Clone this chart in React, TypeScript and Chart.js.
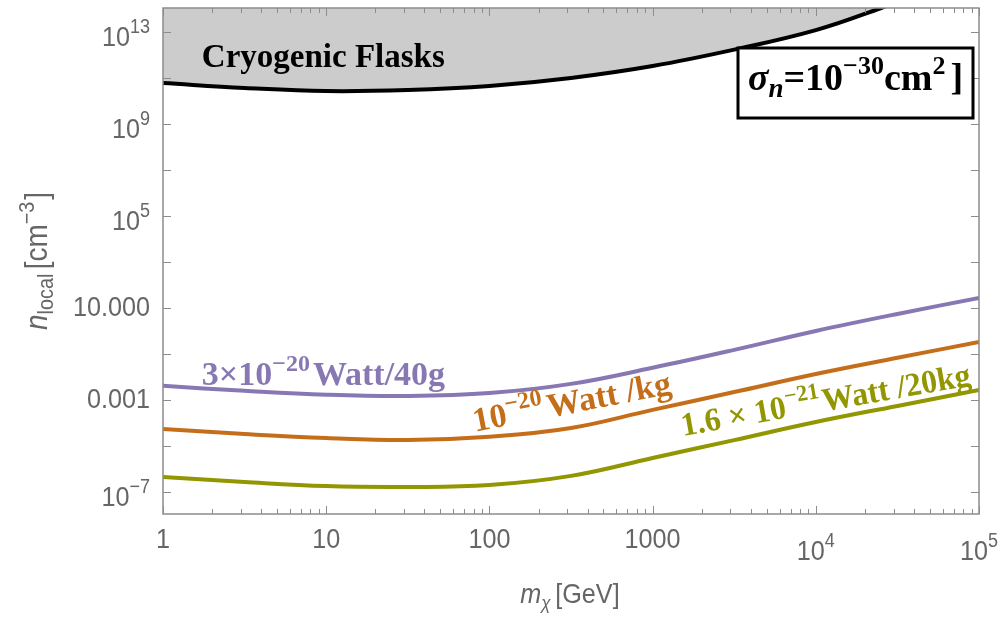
import React, { useEffect, useRef } from "react";
import { Chart, registerables } from "chart.js";

Chart.register(...registerables);

// ---- data ----
const massGeV = [1, 3.162, 10, 31.62, 100, 316.2, 1000, 3162, 10000, 31623, 100000];
const purple40g = [4.1e-3, 2.5e-3, 1.7e-3, 1.5e-3, 2.0e-3, 5.0e-3, 2.5e-2, 0.15, 1.0, 5.5, 27];
const orangeKg = [5.5e-5, 3.3e-5, 2.2e-5, 1.8e-5, 2.5e-5, 6.0e-5, 3.7e-4, 2.2e-3, 1.35e-2, 6.8e-2, 0.33];
const olive20kg = [4.5e-7, 2.7e-7, 1.8e-7, 1.65e-7, 2.0e-7, 5.0e-7, 3.0e-6, 1.8e-5, 1.1e-4, 5.5e-4, 2.7e-3];
const flaskMass = [1, 3.162, 10, 31.62, 100, 316.2, 1000, 3162, 10000, 25119, 31623];
const flaskLimit = [6.0e10, 3.7e10, 2.7e10, 3.0e10, 4.5e10, 1.0e11, 3.3e11, 1.7e12, 1.2e13, 1.1e14, 2.2e14];

const xTickValues = [1, 10, 100, 1000, 1e4, 1e5];
const xTickLabels = ["1", "10", "100", "1000", "10^4", "10^5"];
const yTickValues = [1e-7, 1e-3, 10, 1e5, 1e9, 1e13];
const yTickLabels = ["10^−7", "0.001", "10.000", "10^5", "10^9", "10^13"];
const yTickMarks = [1e-7, 1e-5, 1e-3, 1e-1, 10, 1e3, 1e5, 1e7, 1e9, 1e11, 1e13];

const X_MIN = 1, X_MAX = 1e5, Y_MIN = 1.1e-8, Y_MAX = 1.1e14;

const COLORS = {
  purple: "#8778B3",
  orange: "#C56E1A",
  olive: "#929600",
  flask: "#000000",
  flaskFill: "#cccccc",
  frame: "#8c8c8c",
  tickText: "#666666",
};

const SANS = '"Liberation Sans", Arial, sans-serif';
const SERIF = '"Liberation Serif", "Times New Roman", serif';

type Seg = { t: string; size: number; italic?: boolean; bold?: boolean; serif?: boolean; dy?: number; gap?: number };

function fontOf(s: Seg) {
  return `${s.italic ? "italic " : ""}${s.bold ? "bold " : ""}${s.size}px ${s.serif ? SERIF : SANS}`;
}

function drawRich(
  ctx: CanvasRenderingContext2D,
  segs: Seg[],
  x: number,
  y: number,
  align: "left" | "center" | "right",
  color: string,
  angle = 0,
  hScale = 1
) {
  ctx.save();
  ctx.translate(x, y);
  ctx.rotate((angle * Math.PI) / 180);
  ctx.scale(hScale, 1);
  const widths = segs.map((s) => {
    ctx.font = fontOf(s);
    return ctx.measureText(s.t).width + (s.gap || 0);
  });
  const total = widths.reduce((a, b) => a + b, 0);
  let cx = align === "left" ? 0 : align === "center" ? -total / 2 : -total;
  ctx.fillStyle = color;
  ctx.textBaseline = "alphabetic";
  ctx.textAlign = "left";
  segs.forEach((s, i) => {
    ctx.font = fontOf(s);
    ctx.fillText(s.t, cx + (s.gap || 0), s.dy || 0);
    cx += widths[i];
  });
  ctx.restore();
}

function tickSegs(label: string, size: number): { segs: Seg[]; power: boolean } {
  const i = label.indexOf("^");
  if (i < 0) return { segs: [{ t: label, size }], power: false };
  return {
    segs: [
      { t: label.slice(0, i), size },
      { t: label.slice(i + 1), size: Math.round(size * 0.72), dy: -size * 0.45 },
    ],
    power: true,
  };
}

const LBL = 34;
const SUP = 24;

const decorPlugin = {
  id: "decor",
  afterDatasetsDraw(chart: any) {
    const ctx: CanvasRenderingContext2D = chart.ctx;
    const { left, right, top, bottom } = chart.chartArea;
    const xs = chart.scales.x;
    const ys = chart.scales.y;
    ctx.save();

    // Cryogenic Flasks label
    drawRich(
      ctx,
      [{ t: "Cryogenic Flasks", size: 33, bold: true, serif: true }],
      xs.getPixelForValue(1.73),
      ys.getPixelForValue(3.0e11),
      "left",
      "#000"
    );

    // curve labels
    drawRich(
      ctx,
      [
        { t: "3×10", size: LBL, bold: true, serif: true },
        { t: "−20", size: SUP, bold: true, serif: true, dy: -14 },
        { t: "Watt/40g", size: LBL, bold: true, serif: true, gap: 3 },
      ],
      xs.getPixelForValue(1.73),
      ys.getPixelForValue(4.5e-3),
      "left",
      COLORS.purple,
      0
    );
    drawRich(
      ctx,
      [
        { t: "10", size: LBL, bold: true, serif: true },
        { t: "−20", size: SUP, bold: true, serif: true, dy: -14 },
        { t: "Watt /kg", size: LBL, bold: true, serif: true, gap: 4 },
      ],
      xs.getPixelForValue(81.6),
      ys.getPixelForValue(4.1e-5),
      "left",
      COLORS.orange,
      -11
    );
    drawRich(
      ctx,
      [
        { t: "1.6 × 10", size: 33, bold: true, serif: true },
        { t: "−21", size: 23, bold: true, serif: true, dy: -14 },
        { t: "Watt /20kg", size: 33, bold: true, serif: true, gap: 2 },
      ],
      xs.getPixelForValue(1535),
      ys.getPixelForValue(2.7e-5),
      "left",
      COLORS.olive,
      -10,
      0.97
    );

    // frame
    ctx.strokeStyle = COLORS.frame;
    ctx.lineWidth = 1.5;
    ctx.strokeRect(left, top, right - left, bottom - top);

    // x ticks (bottom and top, pointing inward)
    ctx.lineWidth = 1;
    ctx.beginPath();
    for (let d = 1; d < X_MAX; d *= 10) {
      for (let k = 1; k <= 10; k++) {
        const v = d * k;
        if (v > X_MAX) break;
        const px = Math.round(xs.getPixelForValue(v)) + 0.5;
        const len = k === 1 || k === 10 ? 8 : 5;
        ctx.moveTo(px, bottom);
        ctx.lineTo(px, bottom - len);
        ctx.moveTo(px, top);
        ctx.lineTo(px, top + len);
      }
    }
    // y ticks (left and right)
    yTickMarks.forEach((v) => {
      const py = Math.round(ys.getPixelForValue(v)) + 0.5;
      ctx.moveTo(left, py);
      ctx.lineTo(left + 8, py);
      ctx.moveTo(right, py);
      ctx.lineTo(right - 8, py);
    });
    ctx.stroke();

    // x tick labels
    xTickValues.forEach((v, i) => {
      const { segs, power } = tickSegs(xTickLabels[i], 28);
      const px = xs.getPixelForValue(v);
      drawRich(ctx, segs, px, power ? bottom + 46 : bottom + 34, "center", COLORS.tickText, 0, 0.9);
    });
    // y tick labels
    yTickValues.forEach((v, i) => {
      const { segs, power } = tickSegs(yTickLabels[i], 28);
      const py = ys.getPixelForValue(v);
      drawRich(ctx, segs, left - 13, power ? py + 14 : py + 8, "right", COLORS.tickText, 0, 0.9);
    });

    // axis titles
    drawRich(
      ctx,
      [
        { t: "m", size: 28, italic: true },
        { t: "χ", size: 19, italic: true, dy: 6 },
        { t: "[GeV]", size: 28, gap: 5 },
      ],
      (left + right) / 2 - 1,
      603,
      "center",
      COLORS.tickText,
      0,
      0.9
    );
    drawRich(
      ctx,
      [
        { t: "n", size: 31, italic: true },
        { t: "local", size: 22, dy: 6 },
        { t: "[cm", size: 31, gap: 5 },
        { t: "−3", size: 22, dy: -13 },
        { t: "]", size: 31, gap: 2 },
      ],
      47,
      261,
      "center",
      COLORS.tickText,
      -90,
      0.9
    );

    // sigma box
    const bx0 = right - 241, by0 = top + 40, bw = 235, bh = 70;
    ctx.fillStyle = "#fff";
    ctx.fillRect(bx0, by0, bw, bh);
    ctx.strokeStyle = "#000";
    ctx.lineWidth = 3;
    ctx.strokeRect(bx0, by0, bw, bh);
    drawRich(
      ctx,
      [
        { t: "σ", size: 38, italic: true, bold: true, serif: true },
        { t: "n", size: 27, italic: true, bold: true, serif: true, dy: 7 },
        { t: "=10", size: 38, bold: true, serif: true },
        { t: "−30", size: 26, bold: true, serif: true, dy: -16 },
        { t: "cm", size: 38, bold: true, serif: true },
        { t: "2", size: 26, bold: true, serif: true, dy: -16 },
        { t: "]", size: 38, bold: true, serif: true, gap: 5 },
      ],
      bx0 + bw / 2,
      by0 + 42,
      "center",
      "#000"
    );

    ctx.restore();
  },
};

function pts(xv: number[], yv: number[]) {
  return xv.map((x, i) => ({ x, y: yv[i] }));
}

function lineDs(label: string, xv: number[], yv: number[], color: string, extra: any = {}) {
  return {
    label,
    data: pts(xv, yv),
    borderColor: color,
    borderWidth: 4,
    fill: false,
    pointRadius: 0,
    tension: 0.4,
    ...extra,
  };
}

export default function App() {
  const ref = useRef<HTMLCanvasElement | null>(null);

  useEffect(() => {
    if (!ref.current) return;
    const chart = new Chart(ref.current, {
      type: "line",
      data: {
        datasets: [
          lineDs("Cryogenic Flasks", flaskMass, flaskLimit, COLORS.flask, {
            fill: "end",
            backgroundColor: COLORS.flaskFill,
          }),
          lineDs("3e-20 W/40g", massGeV, purple40g, COLORS.purple),
          lineDs("1e-20 W/kg", massGeV, orangeKg, COLORS.orange),
          lineDs("1.6e-21 W/20kg", massGeV, olive20kg, COLORS.olive),
        ],
      },
      options: {
        animation: false,
        responsive: false,
        devicePixelRatio: 1,
        parsing: false,
        layout: { padding: { left: 163, right: 24, top: 8, bottom: 104 } },
        plugins: { legend: { display: false }, tooltip: { enabled: false } },
        scales: {
          x: { type: "logarithmic", min: X_MIN, max: X_MAX, display: false, bounds: "data" },
          y: { type: "logarithmic", min: Y_MIN, max: Y_MAX, display: false, bounds: "data" },
        },
      } as any,
      plugins: [decorPlugin],
    });
    return () => chart.destroy();
  }, []);

  return (
    <div style={{ position: "fixed", left: 0, top: 0, width: 1003, height: 618, background: "#fff" }}>
      <canvas ref={ref} width={1003} height={618} style={{ display: "block" }} />
    </div>
  );
}
